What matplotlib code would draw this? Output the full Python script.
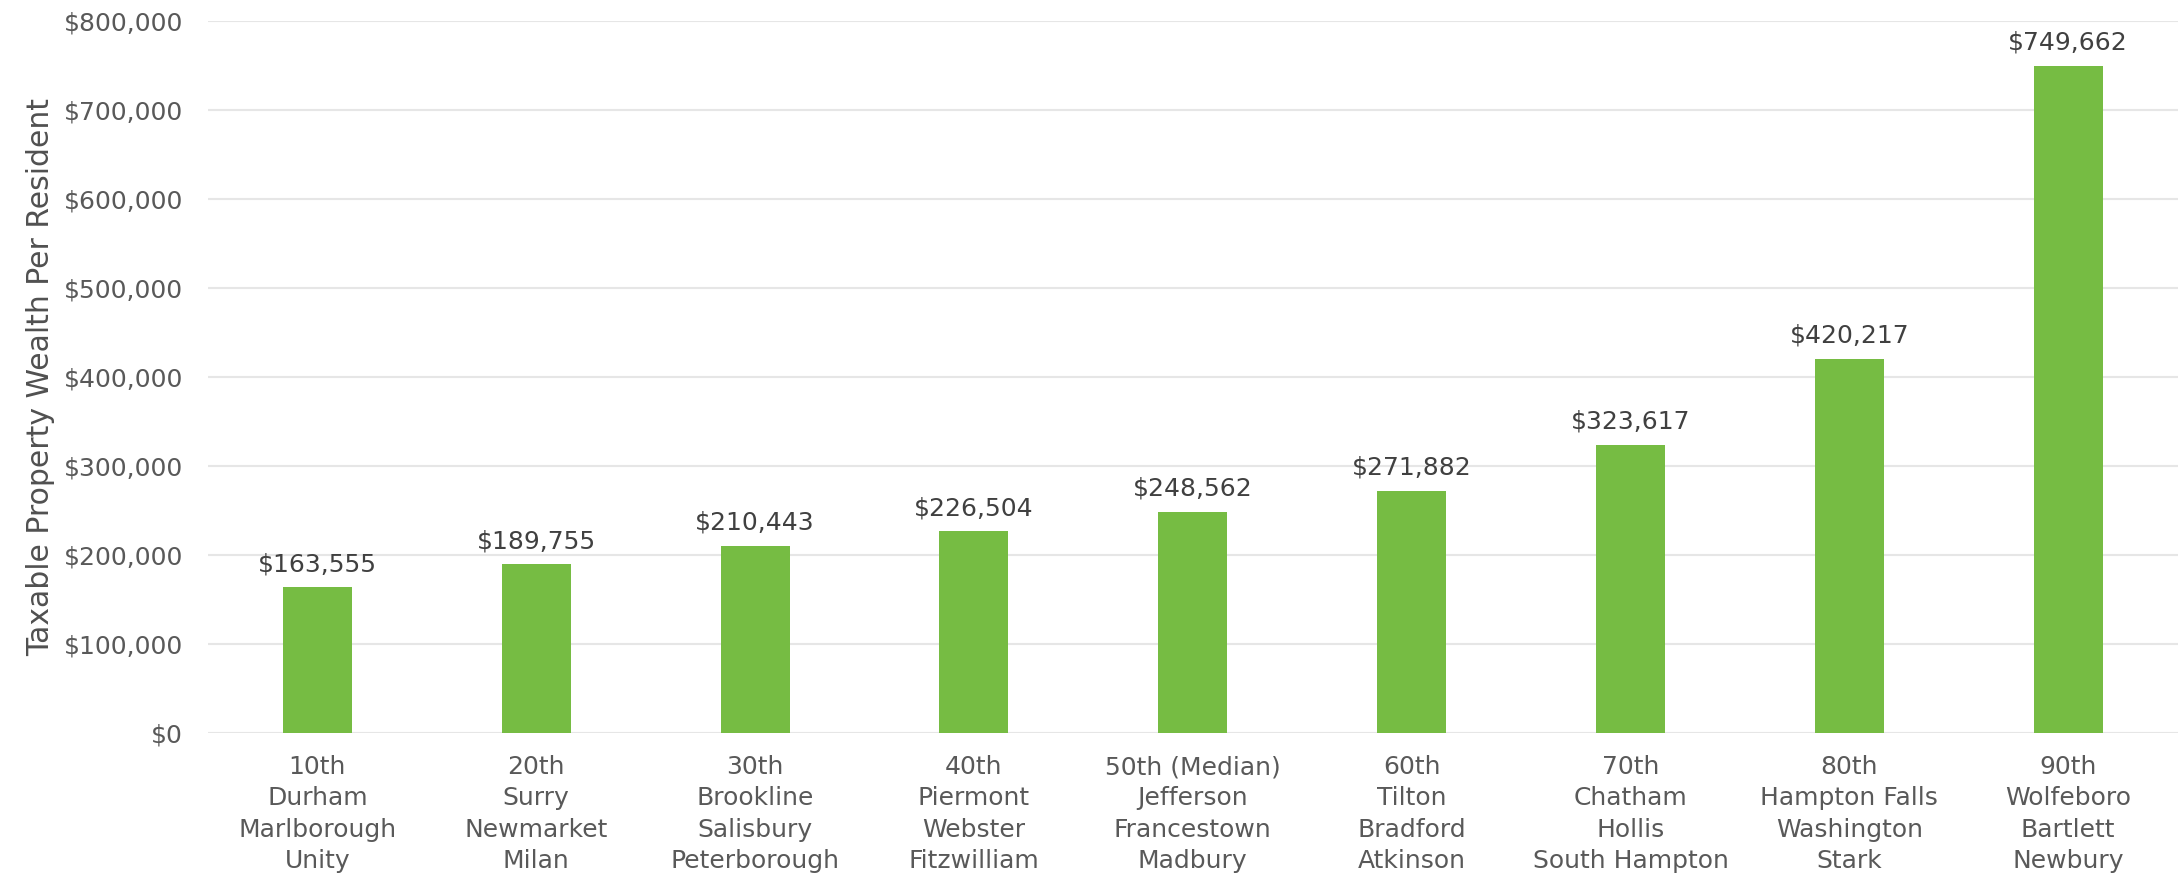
import matplotlib
matplotlib.use("Agg")
import matplotlib.pyplot as plt
from matplotlib.ticker import FuncFormatter

percentiles = ["10th", "20th", "30th", "40th", "50th (Median)", "60th", "70th", "80th", "90th"]
towns = [
    ["Durham", "Marlborough", "Unity"],
    ["Surry", "Newmarket", "Milan"],
    ["Brookline", "Salisbury", "Peterborough"],
    ["Piermont", "Webster", "Fitzwilliam"],
    ["Jefferson", "Francestown", "Madbury"],
    ["Tilton", "Bradford", "Atkinson"],
    ["Chatham", "Hollis", "South Hampton"],
    ["Hampton Falls", "Washington", "Stark"],
    ["Wolfeboro", "Bartlett", "Newbury"],
]
wealth = [163555, 189755, 210443, 226504, 248562, 271882, 323617, 420217, 749662]

plt.rcParams["font.family"] = ["DejaVu Sans"]
text_color = "#595959"

fig = plt.figure(figsize=(21.82, 8.81), dpi=100)
ax = fig.add_axes([0.0953, 0.168, 0.9027, 0.808])

x = list(range(len(wealth)))
bars = ax.bar(x, wealth, width=0.315, color="#76bc43", zorder=3)

for xi, v in zip(x, wealth):
    ax.annotate("${:,}".format(v), (xi, v), xytext=(0, 8), textcoords="offset points",
                ha="center", va="bottom", fontsize=18, color="#404040")

labels = [p + "\n" + "\n".join(t) for p, t in zip(percentiles, towns)]
ax.set_xticks(x)
ax.set_xticklabels(labels, fontsize=18, color=text_color, linespacing=1.38)
ax.set_xlim(-0.5, len(wealth) - 0.5)

ax.set_ylim(0, 800000)
ax.set_yticks(range(0, 800001, 100000))
ax.yaxis.set_major_formatter(FuncFormatter(lambda v, p: "${:,.0f}".format(v)))
ax.tick_params(axis="y", labelsize=18, labelcolor=text_color, length=0, pad=18)
ax.tick_params(axis="x", length=0, pad=16)
ax.set_ylabel("Taxable Property Wealth Per Resident", fontsize=21.5, color="#505050", labelpad=6)

ax.grid(axis="y", color="#e6e6e6", linewidth=1.5, zorder=0)
for s in ax.spines.values():
    s.set_visible(False)

fig.savefig("out.png", dpi=100)
